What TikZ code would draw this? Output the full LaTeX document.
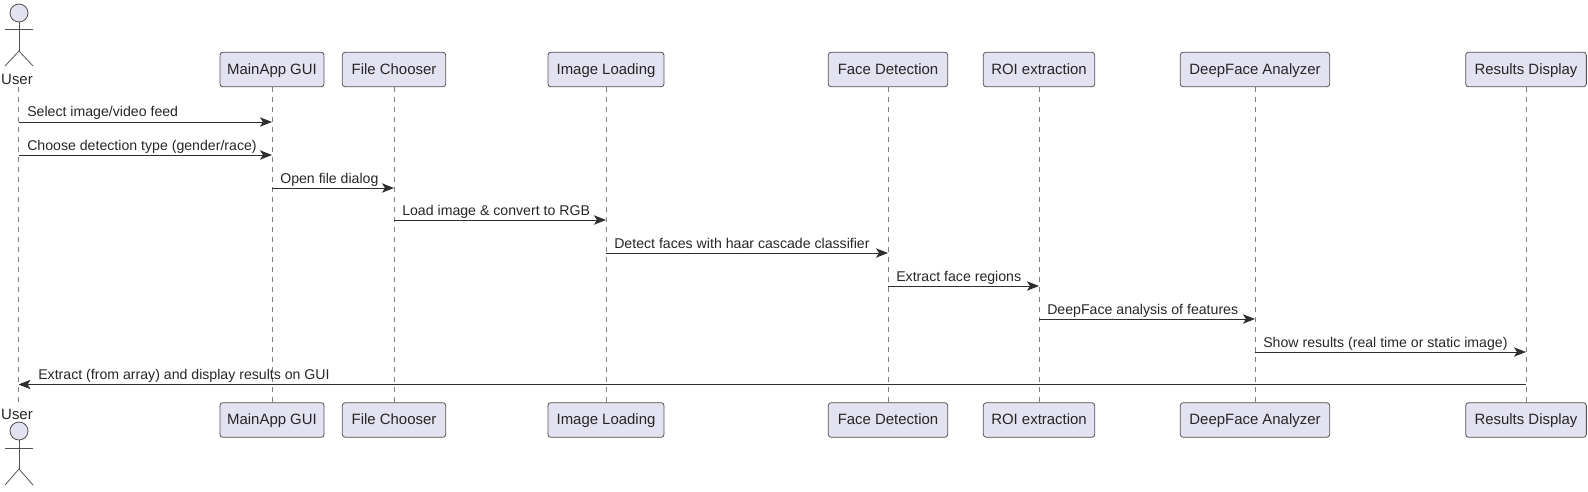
\documentclass[tikz,border=0pt]{standalone}
\usepackage{fontspec}
\setmainfont{Liberation Sans}
\usetikzlibrary{arrows.meta}
\definecolor{partfill}{HTML}{E2E2F0}
\definecolor{partline}{HTML}{181818}
\definecolor{inktext}{HTML}{262626}
\begin{document}
\begin{tikzpicture}[x=0.75pt,y=-0.75pt]
\tikzstyle{part}=[draw=partline!75,fill=partfill,rounded corners=2.2pt,line width=0.6pt,
minimum height=26pt,inner sep=0pt,text=inktext,text height=8.6pt,text depth=1.8pt,
font=\fontsize{11.2}{13}\selectfont]
\tikzstyle{actorname}=[inner sep=0pt,text=inktext,font=\fontsize{11.2}{13}\selectfont]
\tikzstyle{head}=[draw=partline!75,fill=partfill,circle,minimum size=13.5pt,inner sep=0pt,line width=0.6pt]
\tikzstyle{limb}=[draw=partline!75,line width=0.6pt]
\tikzstyle{lifeline}=[draw=partline!55,line width=0.6pt,dash pattern=on 3.75pt off 3.75pt]
\tikzstyle{msg}=[draw=partline!90,line width=0.72pt,-{Stealth[length=9pt,width=7pt,inset=2.2pt]}]
\tikzstyle{msgtext}=[anchor=base west,inner sep=0pt,text=inktext,font=\fontsize{10.6}{12}\selectfont]
\useasboundingbox (0,0) rectangle (1588,492);

% lifelines first, boxes on top
\coordinate (userA) at (18.5,87);
\coordinate (userB) at (18.5,403);
\coordinate (mainA) at (272,87);
\coordinate (mainB) at (272,403);
\coordinate (fileA) at (394,87);
\coordinate (fileB) at (394,403);
\coordinate (loadA) at (606,87);
\coordinate (loadB) at (606,403);
\coordinate (faceA) at (888,87);
\coordinate (faceB) at (888,403);
\coordinate (roiA) at (1039,87);
\coordinate (roiB) at (1039,403);
\coordinate (deepA) at (1255,87);
\coordinate (deepB) at (1255,403);
\coordinate (showA) at (1526,87);
\coordinate (showB) at (1526,403);
\draw [lifeline] (userA) -- (userB);
\draw [lifeline] (mainA) -- (mainB);
\draw [lifeline] (fileA) -- (fileB);
\draw [lifeline] (loadA) -- (loadB);
\draw [lifeline] (faceA) -- (faceB);
\draw [lifeline] (roiA) -- (roiB);
\draw [lifeline] (deepA) -- (deepB);
\draw [lifeline] (showA) -- (showB);

% top row
\node (main1) [part,minimum width=78pt] at (272,69.5) {MainApp GUI};
\node (file1) [part,minimum width=77.5pt] at (394,69.5) {File Chooser};
\node (load1) [part,minimum width=87pt] at (606,69.5) {Image Loading};
\node (face1) [part,minimum width=89.5pt] at (888,69.5) {Face Detection};
\node (roi1) [part,minimum width=83.5pt] at (1039,69.5) {ROI extraction};
\node (deep1) [part,minimum width=112pt] at (1255,69.5) {DeepFace Analyzer};
\node (show1) [part,minimum width=90.5pt] at (1526,69.5) {Results Display};

% bottom row
\node (main2) [part,minimum width=78pt] at (272,420) {MainApp GUI};
\node (file2) [part,minimum width=77.5pt] at (394,420) {File Chooser};
\node (load2) [part,minimum width=87pt] at (606,420) {Image Loading};
\node (face2) [part,minimum width=89.5pt] at (888,420) {Face Detection};
\node (roi2) [part,minimum width=83.5pt] at (1039,420) {ROI extraction};
\node (deep2) [part,minimum width=112pt] at (1255,420) {DeepFace Analyzer};
\node (show2) [part,minimum width=90.5pt] at (1526,420) {Results Display};

% actor, top
\node (head1) [head] at (19,13) {};
\coordinate (arm1l) at (5,29);
\coordinate (arm1r) at (33,29);
\coordinate (hip1) at (19,51);
\coordinate (leg1l) at (5,66);
\coordinate (leg1r) at (33,66);
\draw [limb] (head1) -- (hip1);
\draw [limb] (arm1l) -- (arm1r);
\draw [limb] (leg1l) -- (hip1) -- (leg1r);
\node (user1) [actorname] at (17,79) {User};

% actor, bottom
\node (head2) [head] at (19,431) {};
\coordinate (arm2l) at (5,448);
\coordinate (arm2r) at (33,448);
\coordinate (hip2) at (19,469);
\coordinate (leg2l) at (5,485);
\coordinate (leg2r) at (33,485);
\draw [limb] (head2) -- (hip2);
\draw [limb] (arm2l) -- (arm2r);
\draw [limb] (leg2l) -- (hip2) -- (leg2r);
\node (user2) [actorname] at (17,414) {User};

% messages
\coordinate (m1a) at (18.5,122);
\coordinate (m1b) at (272,122);
\coordinate (m2a) at (18.5,155);
\coordinate (m2b) at (272,155);
\coordinate (m3a) at (272,188);
\coordinate (m3b) at (394,188);
\coordinate (m4a) at (394,220);
\coordinate (m4b) at (606,220);
\coordinate (m5a) at (606,253);
\coordinate (m5b) at (888,253);
\coordinate (m6a) at (888,286);
\coordinate (m6b) at (1039,286);
\coordinate (m7a) at (1039,319);
\coordinate (m7b) at (1255,319);
\coordinate (m8a) at (1255,352);
\coordinate (m8b) at (1526,352);
\coordinate (m9a) at (1526,384.5);
\coordinate (m9b) at (18.5,384.5);
\draw [msg] (m1a) to (m1b);
\draw [msg] (m2a) to (m2b);
\draw [msg] (m3a) to (m3b);
\draw [msg] (m4a) to (m4b);
\draw [msg] (m5a) to (m5b);
\draw [msg] (m6a) to (m6b);
\draw [msg] (m7a) to (m7b);
\draw [msg] (m8a) to (m8b);
\draw [msg] (m9a) to (m9b);

\node (t1) [msgtext] at (27,117) {Select image/video feed};
\node (t2) [msgtext] at (27,150) {Choose detection type (gender/race)};
\node (t3) [msgtext] at (280,183) {Open file dialog};
\node (t4) [msgtext] at (402,215) {Load image \& convert to RGB};
\node (t5) [msgtext] at (614,248) {Detect faces with haar cascade classifier};
\node (t6) [msgtext] at (896,281) {Extract face regions};
\node (t7) [msgtext] at (1047,314) {DeepFace analysis of features};
\node (t8) [msgtext] at (1263,347) {Show results (real time or static image)};
\node (t9) [msgtext] at (38,379.5) {Extract (from array) and display results on GUI};
\end{tikzpicture}
\end{document}
